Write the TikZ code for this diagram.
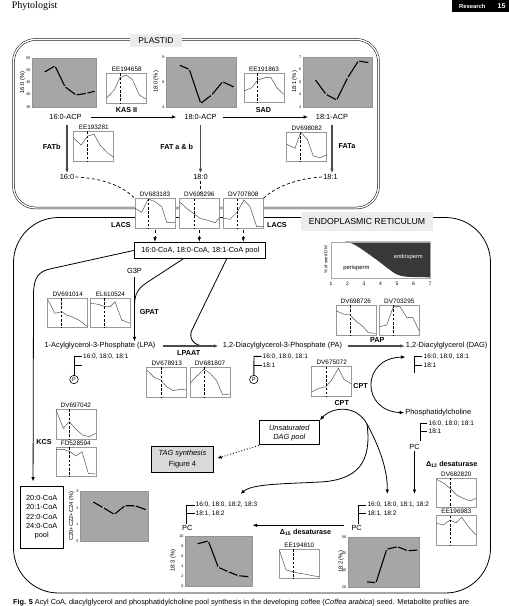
\documentclass[tikz,border=0pt]{standalone}
\usepackage{fontspec}
\setmainfont{Liberation Sans}
\newfontfamily\journalfont{Liberation Serif}
\usetikzlibrary{arrows.meta}

\begin{document}
\begin{tikzpicture}[x=1pt, y=-1pt, >={Latex[length=4.5pt,width=3.6pt]},
    txt/.style={font=\fontsize{7.4}{8.5}\selectfont, inner sep=1pt},
    enz/.style={font=\bfseries\fontsize{7.2}{8.5}\selectfont, inner sep=1pt},
    gene/.style={font=\fontsize{6.4}{7}\selectfont, inner sep=0.3pt, anchor=south, yshift=0.8pt},
    chain/.style={font=\fontsize{6.5}{7}\selectfont, inner sep=0.5pt, anchor=west},
    ticklbl/.style={font=\fontsize{3.8}{4}\selectfont, inner sep=0.3pt, anchor=east},
    ytitle/.style={font=\fontsize{5.8}{6}\selectfont, rotate=90, inner sep=0pt},
    exbox/.style={draw=gray!80, fill=white, line width=0.5pt, minimum width=40pt, minimum height=29.5pt, inner sep=0pt},
    probe/.style={dash pattern=on 2.6pt off 1.6pt, line width=0.9pt},
    expr/.style={gray!55!black, line width=0.45pt},
    plotbg/.style={fill=gray!70, draw=gray!85, line width=0.4pt},
    lipid/.style={line width=1.1pt, mark=*, mark size=0.7pt, mark options={fill=gray!25, draw=gray!45, line width=0.2pt}},
    flow/.style={->, line width=0.8pt},
    gflow/.style={->, line width=1.3pt, black!70},
    poolbox/.style={draw, line width=1pt, fill=white, inner sep=1pt, align=center, font=\fontsize{7.4}{9.2}\selectfont},
    compart/.style={fill=gray!15, inner sep=0pt},
    acyl/.style={line width=0.9pt}
    ]
    \useasboundingbox (0,0) rectangle (509,606);

    % page header
    \node[anchor=base west, inner sep=0, font=\journalfont\fontsize{10}{12}\selectfont] (journal) at (11.7,8.2) {Phytologist};
    \fill[black] (452,0) rectangle (509,12);
    \node[anchor=base west, inner sep=0, text=white, font=\bfseries\fontsize{5.8}{7}\selectfont] (section) at (459,8.4) {Research};
    \node[anchor=base west, inner sep=0, text=white, font=\bfseries\fontsize{7}{8}\selectfont] (page) at (497.5,8.6) {15};

    % membranes
    \draw[double, double distance=1.4pt, line width=0.5pt, rounded corners=22] (13.5,39.5) rectangle (378.5,208);
    \draw[line width=0.8pt, rounded corners=45] (13.5,217.5) rectangle (490.5,593);
    \node[compart, minimum width=51.7pt, minimum height=12.7pt, font=\fontsize{8.4}{9}\selectfont] (plastid) at (156,40.3) {PLASTID};
    \node[compart, minimum width=132pt, minimum height=19pt, font=\fontsize{8.7}{9}\selectfont] (ereticulum) at (367,221.5) {ENDOPLASMIC RETICULUM};

    % 16:0 profile
    \draw[plotbg] (32,58) rectangle (96,106.7);
    \node[ytitle] (y160) at (22.5,82.3) {16:0 (\%)};
    \path (31,58) node[ticklbl] (t160a) {55} (31,70.2) node[ticklbl] (t160b) {50}
          (31,82.3) node[ticklbl] (t160c) {45} (31,94.5) node[ticklbl] (t160d) {40}
          (31,106.7) node[ticklbl] (t160e) {35};
    \draw[lipid] plot coordinates {(44,72.3) (55,66) (65,86.7) (76,95) (86.7,93.3) (95.5,91)};
    % 18:0 profile
    \draw[plotbg] (166,57.3) rectangle (236,106.7);
    \node[ytitle] (y180) at (156,82) {18:0 (\%)};
    \path (165,57.3) node[ticklbl] (t180a) {8} (165,82) node[ticklbl] (t180b) {6}
          (165,106.7) node[ticklbl] (t180c) {4};
    \draw[lipid] plot coordinates {(179,65) (189.3,69.3) (200.7,103.3) (211.7,95) (222.7,81.7) (234.3,87.3)};
    % 18:1 profile
    \draw[plotbg] (302.7,57.3) rectangle (371.7,106.7);
    \node[ytitle] (y181) at (294.5,82) {18:1 (\%)};
    \path (301.7,57.3) node[ticklbl] (t181a) {7} (301.7,69.6) node[ticklbl] (t181b) {6}
          (301.7,82) node[ticklbl] (t181c) {5} (301.7,94.4) node[ticklbl] (t181d) {4}
          (301.7,106.7) node[ticklbl] (t181e) {3};
    \draw[lipid] plot coordinates {(315,79.3) (326,94.3) (336.7,100) (347.7,77.7) (358.3,61) (369.3,62.7)};

    % plastid expression profiles
    \node[exbox] (kasbox) at (126.7,88) {};
    \node[gene] (ee194658) at (kasbox.north) {EE194658};
    \draw[probe] (120.7,73.25) -- (120.7,102.75);
    \draw[expr] (106.9,97.7) -- (114.3,90) -- (120,77.7) -- (126,75) -- (132.3,79.3) -- (139.3,95) -- (146.5,99.3);

    \node[exbox] (sadbox) at (264,87.7) {};
    \node[gene] (ee191863) at (sadbox.north) {EE191863};
    \draw[probe] (257.7,72.95) -- (257.7,102.45);
    \draw[expr] (244.2,91) -- (251.7,87.7) -- (257.7,80) -- (265,77.7) -- (271,77.7) -- (277.3,88.3) -- (283.8,94.3);

    \node[exbox] (fatbbox) at (93.7,146.2) {};
    \node[gene] (ee193281) at (fatbbox.north) {EE193281};
    \draw[probe] (87.7,131.45) -- (87.7,160.95);
    \draw[expr] (73.9,138.3) -- (81,145) -- (87.7,136) -- (94,134.3) -- (100,145) -- (107.3,152.7) -- (113.5,157.3);

    \node[exbox] (fatabox) at (306.7,146.7) {};
    \node[gene] (dv698082) at (fatabox.north) {DV698082};
    \draw[probe] (300.7,131.95) -- (300.7,161.45);
    \draw[expr] (286.9,144.3) -- (295,148.3) -- (300.7,132.2) -- (307.3,139.3) -- (313.3,156) -- (320,157.7) -- (326.5,155);

    % acyl-ACP
    \node[txt] (acp16) at (65.5,117) {16:0-ACP};
    \node[txt] (acp18) at (200.5,117) {18:0-ACP};
    \node[txt] (acp181) at (332,117) {18:1-ACP};
    \draw[flow, shorten <=8.5pt, shorten >=6.8pt] (acp16) -- (acp18);
    \draw[flow, shorten <=5.2pt, shorten >=6.7pt] (acp18) -- (acp181);
    \node[enz] (kas) at (126.5,110.3) {KAS II};
    \node[enz] (sad) at (263.5,110.3) {SAD};

    \node[txt] (fa16) at (67,177) {16:0};
    \node[txt] (fa18) at (200.5,177) {18:0};
    \node[txt] (fa181) at (330.5,177) {18:1};
    \draw[gflow, shorten <=4pt] (acp16.south -| fa16) -- (fa16.north);
    \draw[gflow, shorten <=4pt] (acp18.south) -- (fa18.north);
    \draw[gflow, shorten <=4pt] (acp181.south) -- (acp181.south |- fa181.north);
    \node[enz] (fatb) at (51.7,146.5) {FATb};
    \node[enz] (fatab) at (176.7,146.5) {FAT a \& b};
    \node[enz] (fata) at (347,146.5) {FATa};

    % LACS at the envelope
    \node[exbox] (lacsA) at (155,213.3) {};
    \node[gene] (dv683183) at (lacsA.north) {DV683183};
    \draw[probe] (148.3,198.55) -- (148.3,228.05);
    \draw[expr] (135.2,208.3) -- (141.7,212.3) -- (148.3,199) -- (155,201.7) -- (161.7,206.7) -- (166.7,222.3) -- (174.8,222.3);

    \node[exbox] (lacsB) at (199.3,213.3) {};
    \node[gene] (dv698296) at (lacsB.north) {DV698296};
    \draw[probe] (194,198.55) -- (194,228.05);
    \draw[expr] (179.5,201.7) -- (186.7,208.3) -- (193.3,213.3) -- (200,218.3) -- (206.7,220) -- (215,222.7) -- (219.1,218.3);

    \node[exbox] (lacsC) at (243.3,213.3) {};
    \node[gene] (dv707808) at (lacsC.north) {DV707808};
    \draw[probe] (237.3,198.55) -- (237.3,228.05);
    \draw[expr] (223.5,218.3) -- (230,219.3) -- (236.7,212.7) -- (244,200) -- (250,206.7) -- (256.7,226.7) -- (263.1,226.7);

    \draw[dash pattern=on 3pt off 2.5pt, line width=0.7pt] (fa16.east) .. controls (100,178) and (122,185) .. (lacsA.north west);
    \draw[dash pattern=on 3pt off 2.5pt, line width=0.7pt] (fa181.west) .. controls (300,178) and (276,186) .. (lacsC.north east);
    \draw[dash pattern=on 3pt off 2.5pt, line width=0.7pt] (fa18.south) -- (fa18.south |- dv698296.north);
    \node[enz] (lacsl) at (121,225.5) {LACS};
    \node[enz] (lacsr) at (277,225.5) {LACS};

    % acyl-CoA pool
    \node[poolbox, minimum width=130.7pt, minimum height=16pt] (pool) at (200.3,250.3) {16:0-CoA, 18:0-CoA, 18:1-CoA pool};
    \draw[dashed, ->, line width=0.7pt, shorten <=2pt] (lacsA.south) -- (lacsA.south |- pool.north);
    \draw[dashed, ->, line width=0.7pt, shorten <=2pt] (lacsB.south) -- (lacsB.south |- pool.north);
    \draw[dashed, ->, line width=0.7pt, shorten <=2pt] (lacsC.south) -- (lacsC.south |- pool.north);

    % seed dry matter
    \fill[black!78] plot[smooth] coordinates {(345,241.7) (352,243.5) (360,248) (370,255) (380,262.3) (390,270) (397,274.5) (406.7,276.7) (430,277.3)} -- (430,241.7) -- cycle;
    \draw[gray!70, line width=0.4pt] (331,241.7) rectangle (430,278.3);
    \node[font=\fontsize{5.8}{6}\selectfont, text=white, inner sep=0] (endo) at (408.3,256.5) {endosperm};
    \node[font=\fontsize{5.9}{6}\selectfont, inner sep=0] (peri) at (356.5,268.3) {perisperm};
    \node[ytitle, font=\fontsize{4.4}{5}\selectfont] (seeddm) at (325.8,260) {\% of seed DM};
    \path[font=\fontsize{5}{5}\selectfont, inner sep=0]
          (331,284) node (s1) {1} (347.5,284) node (s2) {2} (364,284) node (s3) {3}
          (380.5,284) node (s4) {4} (397,284) node (s5) {5} (413.5,284) node (s6) {6}
          (430,284) node (s7) {7};

    % glycerolipid route
    \node[txt] (g3p) at (134.5,271) {G3P};
    \node[enz] (gpat) at (149.3,312.5) {GPAT};
    \node[txt] (lpa) at (100,346) {1-Acylglycerol-3-Phosphate (LPA)};
    \node[enz] (lpaat) at (188.7,353.5) {LPAAT};
    \node[txt] (pa) at (282.5,346) {1,2-Diacylglycerol-3-Phosphate (PA)};
    \node[enz] (pap) at (377.3,340.5) {PAP};
    \node[txt] (dag) at (446.7,346) {1,2-Diacylglycerol (DAG)};
    \draw[flow, shorten <=2pt] (g3p.south) -- (g3p.south |- lpa.north);
    \draw[line width=0.8pt] ([xshift=-17pt]pool.south) -- (150,280.5) .. controls (138,288) and (134.5,293) .. (134.5,306);
    \draw[line width=0.8pt] ([xshift=26.4pt]pool.south) -- (191.5,331) .. controls (189,338) and (193,346) .. (205,346);
    \draw[gflow, shorten <=6.6pt, shorten >=3.4pt] (lpa.east) -- (pa.west);
    \draw[gflow, shorten <=5pt] (pa.east) -- (dag.west);

    \node[exbox] (gpatA) at (67.7,312.8) {};
    \node[gene] (dv691014) at (gpatA.north) {DV691014};
    \draw[probe] (61.7,298.05) -- (61.7,327.55);
    \draw[expr] (47.9,300) -- (55,313.3) -- (61.7,311.7) -- (66.7,315) -- (73.3,317.3) -- (80,320.7) -- (87.5,326.7);

    \node[exbox] (gpatB) at (110.4,312.8) {};
    \node[gene] (el610524) at (gpatB.north) {EL610524};
    \draw[probe] (104.3,298.05) -- (104.3,327.55);
    \draw[expr] (90.6,303.3) -- (98.3,304.3) -- (105,306.7) -- (110,306.7) -- (115,301.7) -- (121.7,320) -- (130.2,323.3);

    \node[exbox] (lpaatA) at (166.7,382) {};
    \node[gene] (dv678913) at (lpaatA.north) {DV678913};
    \draw[probe] (161,367.25) -- (161,396.75);
    \draw[expr] (146.9,370) -- (154,377.3) -- (160.7,380) -- (166.7,386.7) -- (173.3,390.7) -- (180,389.3) -- (186.5,390);

    \node[exbox] (lpaatB) at (210,382) {};
    \node[gene] (dv681807) at (lpaatB.north) {DV681807};
    \draw[probe] (204,367.25) -- (204,396.75);
    \draw[expr] (190.2,383.3) -- (196.7,376) -- (204,369.3) -- (210,373.3) -- (216.7,380.7) -- (222.7,395) -- (229.8,394);

    \node[exbox] (papA) at (355.8,320) {};
    \node[gene] (dv698726) at (papA.north) {DV698726};
    \draw[probe] (350,305.25) -- (350,334.75);
    \draw[expr] (336,310.7) -- (343.3,314) -- (350,315) -- (356.7,321.7) -- (363.3,326.7) -- (368.3,332.7) -- (375.6,333.3);

    \node[exbox] (papB) at (399.3,320) {};
    \node[gene] (dv703295) at (papB.north) {DV703295};
    \draw[probe] (393.3,305.25) -- (393.3,334.75);
    \draw[expr] (379.5,326.7) -- (386.7,325) -- (393.3,306.7) -- (400,306.7) -- (406.7,317.3) -- (412.7,317.3) -- (419.1,330.7);

    \node[exbox] (cptbox) at (331.7,381.3) {};
    \node[gene] (dv675072) at (cptbox.north) {DV675072};
    \draw[probe] (326,366.55) -- (326,396.05);
    \draw[expr] (311.9,391.7) -- (319,388.3) -- (326,386.7) -- (331.7,380) -- (338.3,368.3) -- (344,379.3) -- (351.5,384);

    % acyl chains
    \node[circle, draw, line width=0.6pt, minimum size=8.5pt, inner sep=0pt, font=\fontsize{5.5}{6}\selectfont] (phosA) at (74,379.5) {P};
    \draw[acyl] (81.7,356.7) -- (74,356.7) -- (phosA.north);
    \draw[acyl] (74,365) -- (81.7,365);
    \node[chain] (lpac1) at (82.5,356.7) {16:0, 18:0, 18:1};

    \node[circle, draw, line width=0.6pt, minimum size=8.5pt, inner sep=0pt, font=\fontsize{5.5}{6}\selectfont] (phosB) at (253.8,379.5) {P};
    \draw[acyl] (261.5,356.3) -- (254,356.3) -- (phosB.north);
    \draw[acyl] (254,365) -- (261.5,365);
    \node[chain] (pac1) at (262,356.3) {16:0, 18:0, 18:1};
    \node[chain] (pac2) at (262,365) {18:1};

    \draw[acyl] (422,356.7) -- (414.3,356.7) -- (414.3,373.3);
    \draw[acyl] (414.3,365) -- (422,365);
    \node[chain] (dagc1) at (423,356.7) {16:0, 18:0, 18:1};
    \node[chain] (dagc2) at (423,365) {18:1};

    % PC and desaturation
    \node[enz] (cptup) at (360.5,385.7) {CPT};
    \node[enz] (cptlow) at (341.7,403.5) {CPT};
    \node[txt] (ptdcho) at (438.3,412.7) {Phosphatidylcholine};
    \coordinate (dagin) at (405.5,357);
    \draw[flow, <->] (dagin) .. controls (361,358) and (361,411) .. (ptdcho.west);

    \node[txt] (pcA) at (414.5,446.5) {PC};
    \draw[acyl] (427.3,423.3) -- (420,423.3) -- (420,440.8);
    \draw[acyl] (420,431.7) -- (427.3,431.7);
    \node[chain] (ptc1) at (428,423.3) {16:0, 18:0; 18:1};
    \node[chain] (ptc2) at (428,431.7) {18:1};

    \node[poolbox, minimum width=60pt, minimum height=24.3pt, font=\itshape\fontsize{7.4}{9}\selectfont] (udag) at (289.3,432.8) {Unsaturated\\DAG pool};
    \node[poolbox, fill=gray!30, minimum width=62.6pt, minimum height=26pt, font=\fontsize{7.4}{10.5}\selectfont] (tag) at (182.5,459.2) {\textit{TAG synthesis}\\Figure 4};
    \draw[dotted, ->, line width=0.9pt, shorten >=3pt] (udag.south west) -- (tag.east);

    \node[txt] (pcB) at (356.7,528.3) {PC};
    \draw[acyl] (366,505) -- (358.3,505) -- (358.3,523.8);
    \draw[acyl] (358.3,513.3) -- (366,513.3);
    \node[chain] (pcb1) at (366.8,505) {16:0, 18:0, 18:1, 18:2};
    \node[chain] (pcb2) at (366.8,513.3) {18:1, 18:2};

    \node[txt] (pcC) at (187.3,528.3) {PC};
    \draw[acyl] (194.5,505) -- (186.7,505) -- (186.7,523.8);
    \draw[acyl] (186.7,513.3) -- (194.5,513.3);
    \node[chain] (pcc1) at (195,505) {16:0, 18:0, 18:2, 18:3};
    \node[chain] (pcc2) at (195,513.3) {18:1, 18:2};

    \coordinate (cptfork) at (367,424);
    \coordinate (pcBin) at (387.3,494);
    \coordinate (pcCin) at (240.5,494);
    \draw[flow] (cptfork) .. controls (356,404) and (332,407) .. (udag.north east);
    \draw[flow] (cptfork) .. controls (380,448) and (387.5,470) .. (pcBin);
    \draw[flow] (cptfork) .. controls (372,462) and (358,480) .. (320,482) .. controls (280,484) and (252,484) .. (pcCin);

    \draw[flow, shorten <=1pt] (pcA.south) -- (pcA.south |- pcBin);
    \node[enz] (fad2) at (451.7,464.5) {Δ\textsubscript{12} desaturase};
    \node[exbox] (fad2A) at (456.3,492.5) {};
    \node[gene] (dv682820) at (fad2A.north) {DV682820};
    \draw[probe] (450,477.75) -- (450,507.25);
    \draw[expr] (436.5,479.3) -- (444,483.3) -- (450,488.3) -- (456.7,495) -- (463.3,498.3) -- (470,501) -- (476.1,498.3);
    \node[exbox] (fad2B) at (456.3,530.3) {};
    \node[gene] (ee196983) at (fad2B.north) {EE196983};
    \draw[probe] (450,515.55) -- (450,545.05);
    \draw[expr] (436.5,523.3) -- (443.3,525) -- (450,520) -- (456,522.7) -- (461.7,517.3) -- (468.3,526.7) -- (476.1,535);

    \coordinate (d15end) at (252.5,525.3);
    \draw[flow, shorten <=6pt] ([yshift=3pt]pcB.west) -- (d15end);
    \node[enz] (fad3) at (305.5,532.7) {Δ\textsubscript{15} desaturase};
    \node[exbox] (fad3box) at (299.3,563.7) {};
    \node[gene] (ee194810) at (fad3box.north) {EE194810};
    \draw[probe] (293.3,548.95) -- (293.3,578.45);
    \draw[expr] (279.5,550.7) -- (286,570) -- (292.7,571.7) -- (299.3,573.3) -- (306,574.3) -- (312.7,575.7) -- (319.1,576.7);

    % 18:3 profile
    \draw[plotbg] (185,536) rectangle (251.7,585.7);
    \node[ytitle] (y183) at (173,560.8) {18:3 (\%)};
    \path (184,536) node[ticklbl] (t183a) {10} (184,545.9) node[ticklbl] (t183b) {8}
          (184,555.9) node[ticklbl] (t183c) {6} (184,565.8) node[ticklbl] (t183d) {4}
          (184,575.8) node[ticklbl] (t183e) {2} (184,585.7) node[ticklbl] (t183f) {0};
    \draw[lipid] plot coordinates {(196.7,544) (208.3,541) (218.3,567.3) (228.3,571.7) (238.3,575.7) (249.3,576.7)};
    % 18:2 profile
    \draw[plotbg] (347.7,536.7) rectangle (419.3,587.3);
    \node[ytitle] (y182) at (341,562) {18:2 (\%)};
    \path (346.7,536.7) node[ticklbl] (t182a) {50} (346.7,553.6) node[ticklbl] (t182b) {40}
          (346.7,570.4) node[ticklbl] (t182c) {30} (346.7,587.3) node[ticklbl] (t182d) {20};
    \draw[lipid] plot coordinates {(366,581.7) (376,582.7) (386.7,549.3) (397.3,546.7) (407.7,550.7) (418.3,550)};

    % elongation
    \node[poolbox, minimum width=43.3pt, minimum height=62.3pt] (lcpool) at (41.7,517.2) {20:0-CoA\\20:1-CoA\\22:0-CoA\\24:0-CoA\\pool};
    \draw[flow, shorten >=4pt] (pool.west) -- (52,268.5) .. controls (38,271) and (33.5,278) .. (33.5,295) -- ([xshift=13.5pt]lcpool.north west);
    \node[enz] (kcs) at (44,442) {KCS};

    \node[exbox] (kcsA) at (75.8,424) {};
    \node[gene] (dv697042) at (kcsA.north) {DV697042};
    \draw[probe] (69.3,409.25) -- (69.3,438.75);
    \draw[expr] (56,410) -- (63.3,428.3) -- (69.3,421.7) -- (76,429.3) -- (82.7,435) -- (89.3,436.7) -- (95.6,433.3);
    \node[exbox] (kcsB) at (75.8,461.7) {};
    \node[gene] (fd528594) at (kcsB.north) {FD528594};
    \draw[probe] (69.3,446.95) -- (69.3,476.45);
    \draw[expr] (56,449.3) -- (63.3,449.3) -- (70,451.7) -- (76,456) -- (82,451.7) -- (88.3,473.3) -- (95.6,474);

    % C20+C22+C24 profile
    \draw[plotbg] (80,491) rectangle (148.3,541);
    \node[ytitle] (yvl) at (71.5,516) {C20+C22+C24 (\%)};
    \path (79,491) node[ticklbl] (tvla) {3} (79,507.7) node[ticklbl] (tvlb) {2}
          (79,524.3) node[ticklbl] (tvlc) {1} (79,541) node[ticklbl] (tvld) {0};
    \draw[lipid] plot coordinates {(92.7,501.7) (103.3,507.7) (114.3,514.3) (125,505.7) (135,505.7) (146.7,510)};

    % caption
    \node[anchor=base west, inner sep=0, font=\fontsize{7.3}{8}\selectfont] (caption) at (13,604.3) {\textbf{Fig. 5} Acyl CoA, diacylglycerol and phosphatidylcholine pool synthesis in the developing coffee (\textit{Coffea arabica}) seed. Metabolite profiles are};
\end{tikzpicture}
\end{document}
